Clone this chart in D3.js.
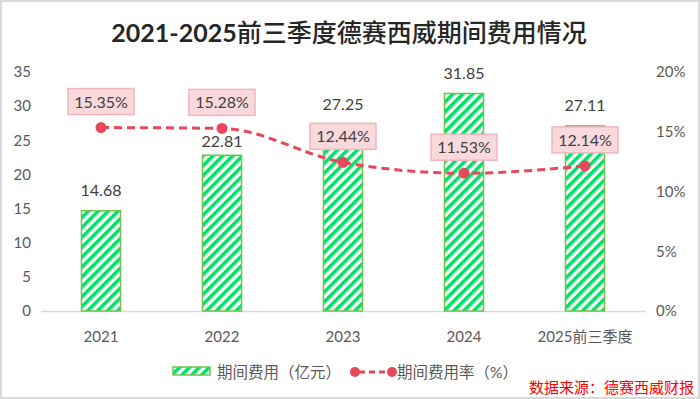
<!DOCTYPE html>
<html>
<head>
<meta charset="utf-8">
<script src="https://cdn.jsdelivr.net/npm/d3@7"></script>
<style>
  html, body { margin: 0; padding: 0; background: #fff; }
  svg { display: block; }
  text { font-family: Lato, "Noto Sans CJK SC", sans-serif; }
</style>
</head>
<body>
<svg class="chart"></svg>
<script>
(function() {
  'use strict';

var years = ['2021', '2022', '2023', '2024', '2025前三季度'];
var expense = [14.68, 22.81, 27.25, 31.85, 27.11];      // 期间费用（亿元）
var expenseRate = [15.35, 15.28, 12.44, 11.53, 12.14];  // 期间费用率（%）
var leftTicks = [0, 5, 10, 15, 20, 25, 30, 35];
var rightTicks = [0, 5, 10, 15, 20];

var width = 700,
    height = 399;

var red = '#e8485c',
    green = '#00e266',
    greenEdge = '#72c250',
    textColor = '#595959';

var svg = d3.select('.chart')
    .attr('width', width)
    .attr('height', height);

// hatch for bars
var defs = svg.append('defs');
defs.append('pattern')
    .attr('id', 'hatch')
    .attr('patternUnits', 'userSpaceOnUse')
    .attr('width', 7)
    .attr('height', 7)
    .attr('patternTransform', 'rotate(45)')
  .append('line')
    .attr('x1', 1.8).attr('y1', 0)
    .attr('x2', 1.8).attr('y2', 7)
    .attr('stroke', green)
    .attr('stroke-width', 3.6);

svg.append('rect')
    .attr('x', 1).attr('y', 1)
    .attr('width', width - 2).attr('height', height - 2)
    .attr('fill', '#fff')
    .attr('stroke', '#d9d9d9')
    .attr('stroke-width', 2);

// title: bold digits, lighter CJK
var title = svg.append('text')
    .attr('x', 349)
    .attr('y', 42)
    .attr('text-anchor', 'middle')
    .attr('font-size', 25)
    .attr('fill', '#262626');
title.append('tspan')
    .attr('font-weight', 'bold')
    .text('2021-2025');
title.append('tspan')
    .attr('font-weight', 500)
    .text('前三季度德赛西威期间费用情况');

var x = d3.scaleBand()
    .domain(years)
    .range([40.5, 645.5])
    .paddingInner(0.677)
    .paddingOuter(0.3385);

var y = d3.scaleLinear()
    .domain([0, 35])
    .range([311, 72]);

var y2 = d3.scaleLinear()
    .domain([0, 20])
    .range([311, 72]);

// axes
var yAxis = svg.append('g')
    .attr('transform', 'translate(31,0)')
    .call(d3.axisLeft(y).tickValues(leftTicks).tickSize(0).tickPadding(0));
yAxis.select('.domain').remove();
yAxis.selectAll('text')
    .attr('font-size', 15)
    .attr('fill', textColor)
    .attr('font-family', 'Lato, sans-serif');

var y2Axis = svg.append('g')
    .attr('transform', 'translate(656,0)')
    .call(d3.axisRight(y2).tickValues(rightTicks).tickSize(0).tickPadding(0)
      .tickFormat(function(d) { return d + '%'; }));
y2Axis.select('.domain').remove();
y2Axis.selectAll('text')
    .attr('font-size', 15)
    .attr('fill', textColor)
    .attr('font-family', 'Lato, sans-serif');

var xAxis = svg.append('g')
    .attr('transform', 'translate(0,311)')
    .call(d3.axisBottom(x).tickSize(0).tickPadding(20));
xAxis.select('.domain').attr('stroke', '#d9d9d9').attr('stroke-width', 1.5);
xAxis.selectAll('text')
    .attr('font-size', 15)
    .attr('fill', textColor);

// bars
svg.append('g').selectAll('rect')
    .data(expense)
  .enter().append('rect')
    .attr('x', function(d, i) { return x(years[i]); })
    .attr('y', function(d) { return y(d); })
    .attr('width', x.bandwidth())
    .attr('height', function(d) { return y(0) - y(d); })
    .attr('fill', 'url(#hatch)')
    .attr('stroke', greenEdge)
    .attr('stroke-width', 1.5);

// line
var line = d3.line()
    .x(function(d, i) { return x(years[i]) + x.bandwidth() / 2; })
    .y(function(d) { return y2(d); })
    .curve(d3.curveMonotoneX);

svg.append('path')
    .datum(expenseRate)
    .attr('d', line)
    .attr('fill', 'none')
    .attr('stroke', red)
    .attr('stroke-width', 3)
    .attr('stroke-dasharray', '8,5');

svg.append('g').selectAll('circle')
    .data(expenseRate)
  .enter().append('circle')
    .attr('cx', function(d, i) { return x(years[i]) + x.bandwidth() / 2; })
    .attr('cy', function(d) { return y2(d); })
    .attr('r', 5.5)
    .attr('fill', red);

// bar value labels (pushed below the line point when they would clash)
svg.append('g').selectAll('text')
    .data(expense)
  .enter().append('text')
    .attr('x', function(d, i) { return x(years[i]) + x.bandwidth() / 2; })
    .attr('y', function(d, i) {
      var base = y(d) - 15;
      var py = y2(expenseRate[i]);
      if (Math.abs((base - 6) - py) < 12) base = py + 19;
      return base;
    })
    .attr('text-anchor', 'middle')
    .attr('font-size', 16)
    .attr('fill', '#404040')
    .text(function(d) { return d.toFixed(2); });

// rate labels in boxes
var rateLabel = svg.append('g').selectAll('g')
    .data(expenseRate)
  .enter().append('g')
    .attr('transform', function(d, i) {
      return 'translate(' + (x(years[i]) + x.bandwidth() / 2) + ',' + (y2(d) - 26) + ')';
    });

rateLabel.append('rect')
    .attr('x', -33)
    .attr('y', -13)
    .attr('width', 66)
    .attr('height', 26)
    .attr('fill', '#f9d9dc')
    .attr('stroke', '#f2b5bc')
    .attr('stroke-width', 1.5);

rateLabel.append('text')
    .attr('y', 6)
    .attr('text-anchor', 'middle')
    .attr('font-size', 16)
    .attr('fill', '#404040')
    .text(function(d) { return d.toFixed(2) + '%'; });

// legend
var legend = svg.append('g');
legend.append('rect')
    .attr('x', 173).attr('y', 367)
    .attr('width', 37).attr('height', 8)
    .attr('fill', 'url(#hatch)')
    .attr('stroke', greenEdge)
    .attr('stroke-width', 1.5);
legend.append('text')
    .attr('x', 217).attr('y', 378)
    .attr('font-size', 15.5)
    .attr('fill', textColor)
    .text('期间费用（亿元）');

legend.append('line')
    .attr('x1', 355).attr('y1', 372)
    .attr('x2', 392).attr('y2', 372)
    .attr('stroke', red)
    .attr('stroke-width', 3)
    .attr('stroke-dasharray', '6,4')
    .attr('stroke-dashoffset', -4);
legend.selectAll('circle')
    .data([355, 392])
  .enter().append('circle')
    .attr('cx', function(d) { return d; })
    .attr('cy', 372)
    .attr('r', 5)
    .attr('fill', red);
legend.append('text')
    .attr('x', 397).attr('y', 378)
    .attr('font-size', 15.5)
    .attr('fill', textColor)
    .text('期间费用率（%）');

svg.append('text')
    .attr('x', 694).attr('y', 393)
    .attr('text-anchor', 'end')
    .attr('font-size', 15)
    .attr('fill', '#ff0000')
    .text('数据来源：德赛西威财报');
}());
</script>
</body>
</html>
